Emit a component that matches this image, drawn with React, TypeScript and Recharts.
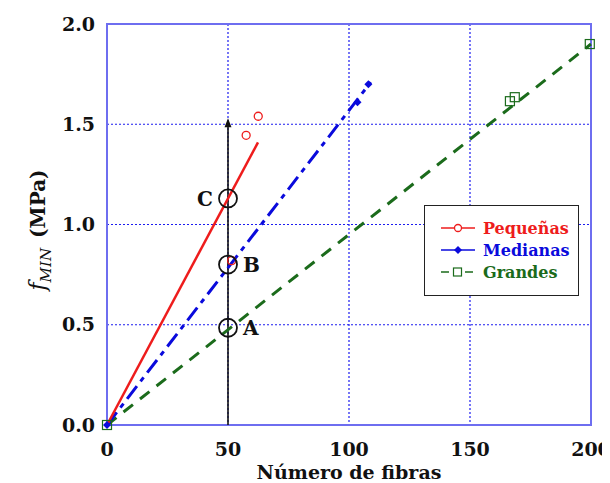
import React from "react"
import {
  CartesianGrid,
  ComposedChart,
  Line,
  ReferenceArea,
  ReferenceDot,
  ReferenceLine,
  Scatter,
  XAxis,
  YAxis,
} from "recharts"

// measured points (Número de fibras, fMIN)
const pequenasPts = [
  { x: 51.5, y: 0.82 },
  { x: 57.5, y: 1.445 },
  { x: 62.5, y: 1.54 },
]
const medianasPts = [
  { x: 0, y: 0 },
  { x: 103.5, y: 1.61 },
  { x: 108, y: 1.7 },
]
const grandesPts = [
  { x: 0, y: 0 },
  { x: 166.5, y: 1.615 },
  { x: 168.5, y: 1.635 },
  { x: 199.5, y: 1.9 },
]

// fitted lines
const pequenasFit = [
  { x: 0, y: 0 },
  { x: 62.4, y: 1.41 },
]
const medianasFit = [
  { x: 0, y: 0 },
  { x: 109, y: 1.71 },
]
const grandesFit = [
  { x: 0, y: 0 },
  { x: 200, y: 1.9 },
]

// points A, B, C on the 50 fibres line
const markedPts = [
  { name: "A", y: 0.485, side: "right" },
  { name: "B", y: 0.8, side: "right" },
  { name: "C", y: 1.13, side: "left" },
]

const xTicks = [0, 50, 100, 150, 200]
const yTicks = [0, 0.5, 1.0, 1.5, 2.0]

const RED = "#ee1c1c"
const BLUE = "#0a0adc"
const GREEN = "#1b6b1b"
const FONT = "'DejaVu Serif', serif"

const OpenCircle = (props: any) => (
  <circle cx={props.cx} cy={props.cy} r={4} fill="none" stroke={RED} strokeWidth={1.3} />
)
const Diamond = (props: any) => {
  const { cx, cy } = props
  return <polygon points={`${cx},${cy - 4} ${cx + 4},${cy} ${cx},${cy + 4} ${cx - 4},${cy}`} fill={BLUE} />
}
const OpenSquare = (props: any) => (
  <rect x={props.cx - 4.5} y={props.cy - 4.5} width={9} height={9} fill="none" stroke={GREEN} strokeWidth={1.2} />
)

const ArrowLine = (props: any) => {
  const { x1, y1, x2, y2 } = props
  return (
    <g>
      <line x1={x1} y1={y1} x2={x2} y2={y2 + 4} stroke="#111" strokeWidth={1.6} />
      <polygon points={`${x2},${y2} ${x2 - 3.5},${y2 + 9} ${x2 + 3.5},${y2 + 9}`} fill="#111" />
    </g>
  )
}

const YLabel = () => (
  <text
    transform="translate(37,222) rotate(-90)"
    textAnchor="middle"
    fontFamily={FONT}
    fontSize={20}
    fill="#111"
  >
    <tspan fontStyle="italic" fontSize={22}>f</tspan>
    <tspan fontStyle="italic" fontSize={15} dy={6}>MIN</tspan>
    <tspan dy={-6} fontWeight="bold" dx={10}>(MPa)</tspan>
  </text>
)

const legendRows = [
  { label: "Pequeñas", color: RED, dash: undefined, mark: "circle" },
  { label: "Medianas", color: BLUE, dash: undefined, mark: "diamond" },
  { label: "Grandes", color: GREEN, dash: "8 4", mark: "square" },
]

const LegendBox = () => (
  <div
    style={{
      position: "absolute",
      left: 416,
      top: 197,
      width: 155,
      height: 91,
      boxSizing: "border-box",
      border: "1.5px solid #222",
      background: "#fff",
      padding: "11px 0 0 14px",
      fontFamily: FONT,
      fontWeight: "bold",
      fontSize: 16,
    }}
  >
    {legendRows.map((r) => (
      <div key={r.label} style={{ display: "flex", alignItems: "center", height: 22 }}>
        <svg width={38} height={12} style={{ marginRight: 6 }}>
          <line x1={2} y1={6} x2={36} y2={6} stroke={r.color} strokeWidth={1.5} strokeDasharray={r.dash} />
          {r.mark === "circle" && <circle cx={19} cy={6} r={3.5} fill="#fff" stroke={r.color} strokeWidth={1.3} />}
          {r.mark === "diamond" && <polygon points="19,2 23,6 19,10 15,6" fill={r.color} />}
          {r.mark === "square" && <rect x={14.5} y={2} width={8} height={8} fill="#fff" stroke={r.color} strokeWidth={1.2} />}
        </svg>
        <span style={{ color: r.color }}>{r.label}</span>
      </div>
    ))}
  </div>
)

export default function App() {
  const tickStyle = { fontFamily: FONT, fontSize: 19, fontWeight: "bold", fill: "#111" }
  return (
    <div style={{ position: "relative", width: 602, height: 475, background: "#fff" }}>
      <ComposedChart width={602} height={475} margin={{ top: 16, right: 19, bottom: 4, left: 39 }}>
        <CartesianGrid stroke="#1c1cf0" strokeDasharray="2 2" strokeWidth={1.2} />
        <XAxis
          type="number"
          dataKey="x"
          domain={[0, 200]}
          ticks={xTicks}
          height={54}
          tickLine={false}
          axisLine={false}
          tick={tickStyle}
          tickMargin={12}
          label={{
            value: "Número de fibras",
            position: "insideBottom",
            offset: 0,
            style: { fontFamily: FONT, fontSize: 19, fontWeight: "bold", fill: "#111" },
          }}
        />
        <YAxis
          type="number"
          dataKey="y"
          domain={[0, 2]}
          ticks={yTicks}
          width={60}
          tickLine={false}
          axisLine={false}
          tick={tickStyle}
          tickMargin={6}
          tickFormatter={(v: number) => v.toFixed(1)}
          label={<YLabel />}
        />
        <ReferenceArea x1={0} x2={200} y1={0} y2={2} fill="none" stroke="#6e6ef0" strokeWidth={2} ifOverflow="visible" />
        <ReferenceLine
          segment={[{ x: 50, y: 0 }, { x: 50, y: 1.53 }]}
          shape={ArrowLine}
          ifOverflow="visible"
        />
        <Line data={grandesFit} dataKey="y" stroke={GREEN} strokeWidth={3} strokeDasharray="12 9" dot={false} isAnimationActive={false} />
        <Line data={medianasFit} dataKey="y" stroke={BLUE} strokeWidth={3} strokeDasharray="16 6 5 6" dot={false} isAnimationActive={false} />
        <Line data={pequenasFit} dataKey="y" stroke={RED} strokeWidth={2.5} dot={false} isAnimationActive={false} />
        <Scatter name="Grandes" data={grandesPts} shape={OpenSquare} isAnimationActive={false} />
        <Scatter name="Medianas" data={medianasPts} shape={Diamond} isAnimationActive={false} />
        <Scatter name="Pequeñas" data={pequenasPts} shape={OpenCircle} isAnimationActive={false} />
        {markedPts.map((p) => (
          <ReferenceDot
            key={p.name}
            x={50}
            y={p.y}
            r={9}
            fill="none"
            stroke="#111"
            strokeWidth={1.8}
            label={{
              value: p.name,
              position: p.side as any,
              offset: 6,
              style: { fontFamily: FONT, fontSize: 20, fontWeight: "bold", fill: "#111" },
            }}
          />
        ))}
      </ComposedChart>
      <LegendBox />
    </div>
  )
}
